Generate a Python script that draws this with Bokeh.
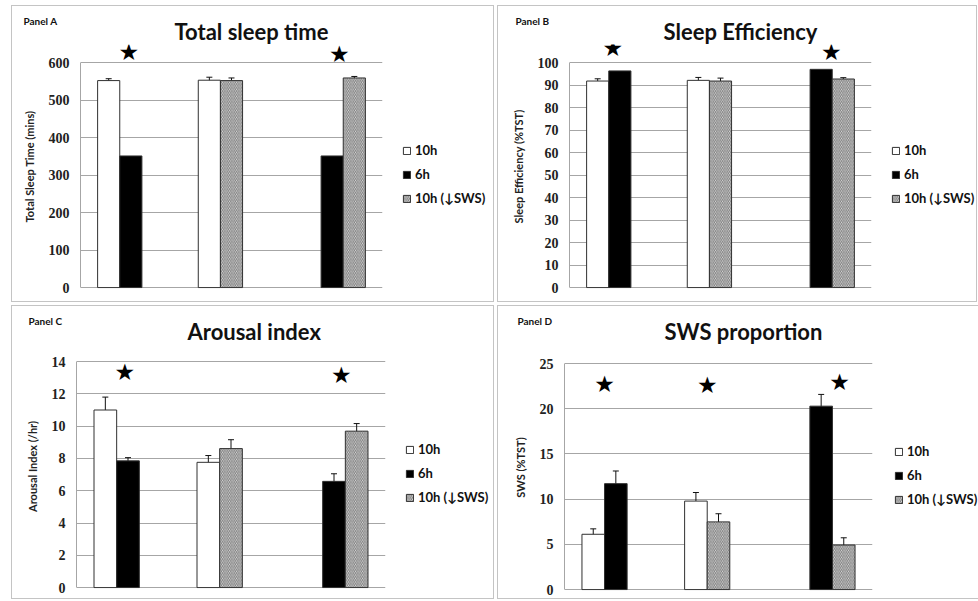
from bokeh.plotting import figure
from bokeh.models import (ColumnDataSource, Whisker, TeeHead, LabelSet,
                          Legend, LegendItem, Range1d, Title)
from bokeh.layouts import row, column
from bokeh.embed import file_html
from bokeh.resources import INLINE
from bokeh.core.properties import value

# ---------------- data ----------------
comparisons = ["10h vs 6h", "10h vs 10h (↓SWS)", "6h vs 10h (↓SWS)"]
series_names = ["10h", "6h", "10h (↓SWS)"]

# Panel A: Total sleep time (mins)
tst_10h = [552, 553, None]
tst_10h_err = [5, 8, None]
tst_6h = [351, None, 351]
tst_6h_err = [None, None, None]
tst_low = [None, 552, 559]
tst_low_err = [None, 7, 4]
tst_ticks = [0, 100, 200, 300, 400, 500, 600]
tst_star_groups = [0, 2]
tst_star_y = [628, 624]

# Panel B: Sleep efficiency (%TST)
se_10h = [91.8, 92.1, None]
se_10h_err = [1.0, 1.3, None]
se_6h = [96.3, None, 97.0]
se_6h_err = [None, None, None]
se_low = [None, 91.8, 92.7]
se_low_err = [None, 1.3, 0.6]
se_ticks = [0, 10, 20, 30, 40, 50, 60, 70, 80, 90, 100]
se_star_groups = [0, 2]
se_star_y = [106.6, 104.9]

# Panel C: Arousal index (/hr)
ai_10h = [11.0, 7.76, None]
ai_10h_err = [0.8, 0.42, None]
ai_6h = [7.85, None, 6.58]
ai_6h_err = [0.2, None, 0.47]
ai_low = [None, 8.61, 9.69]
ai_low_err = [None, 0.55, 0.47]
ai_ticks = [0, 2, 4, 6, 8, 10, 12, 14]
ai_star_groups = [0, 2]
ai_star_y = [13.36, 13.19]

# Panel D: SWS proportion (%TST)
sws_10h = [6.12, 9.79, None]
sws_10h_err = [0.6, 0.95, None]
sws_6h = [11.72, None, 20.29]
sws_6h_err = [1.4, None, 1.3]
sws_low = [None, 7.49, 4.93]
sws_low_err = [None, 0.9, 0.8]
sws_ticks = [0, 5, 10, 15, 20, 25]
sws_star_groups = [0, 1, 2]
sws_star_y = [22.7, 22.6, 22.96]

# ---------------- layout / style ----------------
SLOT = {"10h": [-1, -1, 0], "6h": [0, 0, 0], "10h (↓SWS)": [1, 0, 1]}
BAR_W = 0.22
FILL = {"10h": "#ffffff", "6h": "#000000", "10h (↓SWS)": "#e0e0e0"}
HATCH = {"10h": None, "6h": None, "10h (↓SWS)": "\\"}
GRID = "#a6a6a6"
F = 38          # frame top (px) -- room above the top tick for the stars
SANS = "Lato"


def make_panel(tag, title, ylabel, means, errs, ticks, star_groups, star_y,
               star_dx, W, H, L, T, FW, FH, title_off, tag_off, legend_xy):
    ymax = ticks[-1]
    pad = ymax * 0.004
    bottom_px = T + FH
    yend = ymax * (bottom_px - F) / FH
    p = figure(frame_width=FW, frame_height=bottom_px - F,
               output_backend="svg", toolbar_location=None,
               x_range=Range1d(0, 3), y_range=Range1d(-pad, yend),
               min_border_left=L, min_border_right=W - L - FW,
               min_border_top=F, min_border_bottom=H - bottom_px,
               styles={"border": "1px solid #c4c4c4"})
    p.outline_line_color = None
    p.xaxis.visible = False
    p.xgrid.visible = False
    p.ygrid.grid_line_color = GRID
    p.ygrid.grid_line_width = 1
    p.yaxis.ticker = ticks
    p.yaxis.bounds = (0, ymax)
    p.yaxis.axis_line_color = GRID
    p.yaxis.major_tick_line_color = None
    p.yaxis.major_tick_out = 0
    p.yaxis.major_tick_in = 0
    p.yaxis.minor_tick_line_color = None
    p.yaxis.major_label_standoff = 11
    p.yaxis.major_label_text_font = "Liberation Serif"
    p.yaxis.major_label_text_font_style = "bold"
    p.yaxis.major_label_text_font_size = "14px"
    p.yaxis.major_label_text_color = "#222222"
    p.yaxis.axis_label = ylabel
    p.yaxis.axis_label_text_font = SANS
    p.yaxis.axis_label_text_font_style = "bold"
    p.yaxis.axis_label_text_font_size = "11px"
    p.yaxis.axis_label_text_color = "#222222"
    p.yaxis.axis_label_standoff = 10

    items = []
    for name in series_names:
        vals, ev = means[name], errs[name]
        xs, tops, ex, up, lo = [], [], [], [], []
        for i, v in enumerate(vals):
            if v is None:
                continue
            x = i + 0.5 + SLOT[name][i] * BAR_W
            xs.append(x)
            tops.append(v)
            if ev[i] is not None:
                ex.append(x)
                up.append(v + ev[i])
                lo.append(v - ev[i])
        src = ColumnDataSource(dict(x=xs, top=tops))
        kw = {}
        if HATCH[name]:
            kw = dict(hatch_pattern=HATCH[name], hatch_color="#7a7a7a",
                      hatch_scale=3.5, hatch_weight=1)
        r = p.vbar(x="x", top="top", bottom=0, width=BAR_W, source=src,
                   fill_color=FILL[name], line_color="#303030", line_width=1, **kw)
        items.append(LegendItem(label=name, renderers=[r]))
        if ex:
            esrc = ColumnDataSource(dict(x=ex, upper=up, lower=lo))
            p.add_layout(Whisker(source=esrc, base="x", upper="upper", lower="lower",
                                 line_color="#111111", line_width=1,
                                 upper_head=TeeHead(size=6, line_color="#111111", line_width=1),
                                 lower_head=TeeHead(size=6, line_color="#111111", line_width=1)))

    ssrc = ColumnDataSource(dict(x=[g + 0.5 + d for g, d in zip(star_groups, star_dx)],
                                 y=star_y, t=["★"] * len(star_groups)))
    p.add_layout(LabelSet(x="x", y="y", text="t", source=ssrc, text_align="center",
                          text_baseline="middle", text_font_size="23px",
                          text_font=value("DejaVu Sans"), text_color="#000000"))

    # main title (nearest the frame) and the small panel tag (outer row)
    main_t = Title(text=title, align="left", offset=title_off, vertical_align="bottom",
                   standoff=0, text_font=SANS, text_font_style="bold",
                   text_font_size="22px", text_color="#111111")
    tag_t = Title(text=tag, align="left", offset=tag_off, vertical_align="bottom",
                  standoff=-22, text_font=SANS, text_font_style="bold",
                  text_font_size="10px", text_color="#111111")
    p.title = None
    p.add_layout(main_t, "above")
    p.add_layout(tag_t, "above")

    leg = Legend(items=items, location=legend_xy, orientation="vertical",
                 glyph_width=9, glyph_height=9, label_height=12, spacing=8,
                 padding=0, margin=0, border_line_color=None,
                 background_fill_alpha=0, label_standoff=4,
                 label_text_font=SANS, label_text_font_style="bold",
                 label_text_font_size="13px", label_text_color="#111111")
    p.add_layout(leg, "right")
    return p


pA = make_panel("Panel A", "Total sleep time", "Total Sleep Time (mins)",
                {"10h": tst_10h, "6h": tst_6h, "10h (↓SWS)": tst_low},
                {"10h": tst_10h_err, "6h": tst_6h_err, "10h (↓SWS)": tst_low_err},
                tst_ticks, tst_star_groups, tst_star_y, [-0.02, 0.07],
                481, 295, 68, 56, 300, 224, 94, -57, (20, 82))
pB = make_panel("Panel B", "Sleep Efficiency", "Sleep Efficiency (%TST)",
                {"10h": se_10h, "6h": se_6h, "10h (↓SWS)": se_low},
                {"10h": se_10h_err, "6h": se_6h_err, "10h (↓SWS)": se_low_err},
                se_ticks, se_star_groups, se_star_y, [-0.07, 0.10],
                478, 295, 71, 56, 300, 224, 94, -54, (20, 82))
pC = make_panel("Panel C", "Arousal index", "Arousal Index (/hr)",
                {"10h": ai_10h, "6h": ai_6h, "10h (↓SWS)": ai_low},
                {"10h": ai_10h_err, "6h": ai_6h_err, "10h (↓SWS)": ai_low_err},
                ai_ticks, ai_star_groups, ai_star_y, [-0.03, 0.07],
                481, 292, 64, 55, 307, 225, 111, -48, (20, 83))
pD = make_panel("Panel D", "SWS proportion", "SWS (%TST)",
                {"10h": sws_10h, "6h": sws_6h, "10h (↓SWS)": sws_low},
                {"10h": sws_10h_err, "6h": sws_6h_err, "10h (↓SWS)": sws_low_err},
                sws_ticks, sws_star_groups, sws_star_y, [-0.11, -0.11, 0.18],
                478, 292, 66, 57, 306, 225, 100, -47, (22, 83))

layout = column(row(pA, pB, spacing=3), row(pC, pD, spacing=3), spacing=3,
                margin=(5, 0, 0, 11))
open("out.html", "w").write(file_html(layout, INLINE))
